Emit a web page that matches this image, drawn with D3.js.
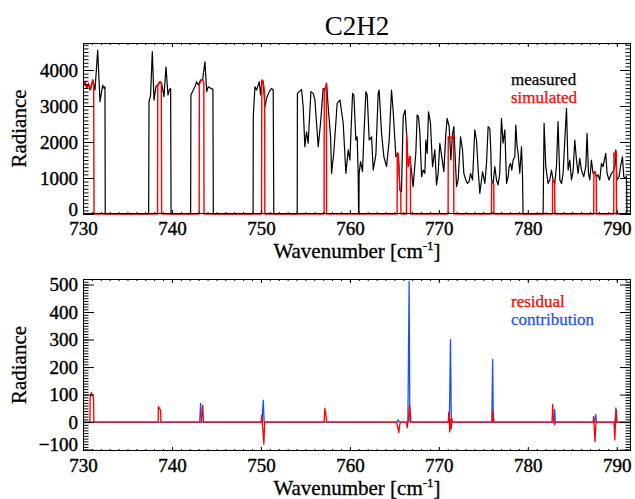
<!DOCTYPE html>
<html>
<head>
<meta charset="utf-8">
<script src="https://cdn.jsdelivr.net/npm/d3@7"></script>
<style>
body { margin: 0; background: #fff; }
text { font-family: "Liberation Serif", "DejaVu Serif", serif; fill: #000; }
</style>
</head>
<body>
<div id="chart"></div>
<script>
// datos: [numero de onda, radiancia]
const measured = [
  [730.0,3540],[730.22,3675],[730.41,3490],[730.6,3630],[730.79,3445],[731.09,3720],[731.35,3445],[731.65,4555],[731.91,3120],[732.21,3580],[732.36,3490],[732.47,3535],[732.5,0],
  [737.38,0],[737.42,3120],[737.6,3305],[737.79,4510],[737.98,3165],[738.2,3535],[738.39,3585],[738.65,3675],[738.84,3630],[739.1,3260],[739.33,4090],[739.55,3305],[739.7,3445],[739.85,3490],[739.9,0],
  [742.1,0],[742.13,3305],[742.4,3445],[742.58,3535],[742.77,3675],[742.96,3585],[743.22,3720],[743.45,3740],[743.71,4230],[743.9,3400],[744.08,3535],[744.35,3490],[744.6,3470],[744.65,0],
  [749.12,0],[749.14,2705],[749.33,3535],[749.51,3445],[749.81,3675],[749.96,3305],[750.11,3720],[750.26,3675],[750.45,2980],[750.64,3215],[750.93,3400],[751.2,3490],[751.38,3445],[751.45,0],
  [754.08,0],[754.1,3350],[754.3,3400],[754.57,3460],[754.75,2980],[754.94,1870],[755.13,2285],[755.31,1965],[755.62,3400],[755.88,3350],[756.07,3165],[756.44,1870],[756.7,2520],[757.0,3490],[757.19,3445],[757.38,3630],[757.56,2980],[757.83,2145],[757.94,1130],[758.2,1730],[758.57,3075],[758.88,3165],[759.25,2520],[759.55,1130],[759.81,1780],[760.0,1500],[760.3,3350],[760.45,3305],[760.67,2055],[760.82,2145],[760.93,1130],[760.98,0],[761.02,0],[761.04,1130],[761.2,1455],[761.42,1175],[761.57,2145],[761.8,3400],[761.95,3305],[762.17,2055],[762.44,2145],[762.62,1220],[762.92,1640],[763.18,3350],[763.29,3445],[763.56,2240],[763.82,1590],[764.12,1315],[764.42,2055],[764.68,3445],[764.87,2840],[765.17,1590],[765.43,1685],[765.62,665],[765.8,620],[765.99,2705],[766.21,2890],[766.37,2240],[766.55,1315],[766.74,1590],[766.93,1175],[767.11,760],[767.42,1730],[767.56,2750],[767.71,2705],[767.87,2240],[768.06,1035],[768.24,1220],[768.43,1130],[768.54,2055],[768.69,1685],[768.84,2840],[769.06,2520],[769.29,1315],[769.55,1780],[769.74,805],[769.92,1130],[770.11,1965],[770.3,1640],[770.56,1175],[770.79,2240],[770.93,2660],[771.16,2425],[771.35,1500],[771.54,2240],[771.69,2425],[771.8,1780],[771.99,760],[772.17,945],[772.44,2145],[772.66,1780],[772.81,1130],[773.03,945],[773.22,850],[773.4,900],[773.56,1130],[773.79,945],[774.04,2335],[774.23,2055],[774.42,1220],[774.61,575],[774.91,1175],[775.17,850],[775.36,1410],[775.54,2425],[775.73,2380],[775.84,1780],[775.92,945],[776.1,850],[776.29,1315],[776.48,945],[776.66,805],[776.85,1130],[777.04,2660],[777.22,1965],[777.42,2335],[777.61,850],[777.79,1035],[777.9,1315],[778.06,1410],[778.2,1220],[778.35,1500],[778.54,1590],[778.65,2470],[778.8,1870],[778.91,1685],[779.1,1130],[779.29,1870],[779.4,1130],[779.47,0],
  [781.72,0],[781.83,2520],[782.02,1315],[782.28,850],[782.47,945],[782.66,1220],[782.84,945],[783.03,850],[783.22,1315],[783.4,2565],[783.6,945],[783.79,850],[783.97,1130],[784.16,2055],[784.35,2935],[784.53,1220],[784.72,1500],[784.91,945],[785.09,1175],[785.28,2055],[785.47,1500],[785.65,1130],[785.84,1545],[786.03,1220],[786.29,1035],[786.52,1315],[786.66,2240],[786.82,1130],[786.97,945],[787.15,1500],[787.34,1130],[787.53,1175],[787.72,1035],[787.9,1085],[788.09,945],[788.28,1410],[788.46,1315],[788.76,1685],[788.91,1130],[789.13,945],[789.4,1130],[789.58,1175],[789.78,1315],[789.89,1780],[790.03,945],[790.26,1035],[790.42,1315],[790.64,1590],[790.79,1035],[790.93,990],[791.09,1035],[791.15,0],[791.6,0]
];

const simulated = [
  [730.0,3550],[730.25,3660],[730.45,3500],[730.65,3600],[730.85,3470],[731.0,3600],[731.1,3720],[731.2,3620],[731.24,0],
  [738.38,0],[738.4,3560],[738.5,3600],[738.65,3675],[738.8,3630],[738.84,0],
  [743.06,0],[743.08,3600],[743.25,3700],[743.45,3740],[743.58,3650],[743.6,0],
  [750.07,0],[750.1,3650],[750.2,3720],[750.35,3500],[750.42,3300],[750.44,0],
  [757.1,0],[757.12,3490],[757.25,3450],[757.36,3630],[757.38,0],
  [765.31,0],[765.33,1700],[765.45,1650],[765.62,700],[765.72,620],[765.74,0],
  [766.36,0],[766.38,2200],[766.5,1500],[766.62,1400],[766.72,1600],[766.8,1590],[766.82,0],
  [771.04,0],[771.06,2150],[771.3,2100],[771.5,2150],[771.66,2200],[771.68,0],
  [775.91,0],[775.93,870],[776.05,850],[776.17,830],[776.19,0],
  [782.77,0],[782.79,950],[782.9,900],[783.02,860],[783.04,0],
  [787.41,0],[787.43,1150],[787.55,1175],[787.7,1035],[787.72,0],
  [789.66,0],[789.68,1700],[789.85,1600],[789.95,1730],[789.97,0],[791.6,0]
];

const residual = [
  [730.0,0],[730.78,0],[730.8,85],[730.92,107],[731.05,100],[731.18,92],[731.22,0],
  [738.45,0],[738.47,56],[738.6,50],[738.72,42],[738.76,0],
  [743.3,0],[743.36,20],[743.45,62],[743.55,0],
  [750.03,0],[750.08,25],[750.2,-20],[750.33,-80],[750.42,0],
  [757.1,0],[757.18,50],[757.3,30],[757.38,0],
  [765.25,0],[765.35,-15],[765.5,-38],[765.6,-10],[765.68,0],
  [766.35,0],[766.45,-20],[766.55,5],[766.72,60],[766.8,30],[766.85,0],
  [771.05,0],[771.12,36],[771.22,-36],[771.3,10],[771.38,-25],[771.45,15],[771.52,0],
  [776.02,0],[776.1,42],[776.16,10],[776.2,0],
  [782.72,0],[782.8,64],[782.88,10],[783.0,-10],[783.08,0],
  [787.35,0],[787.4,20],[787.48,-30],[787.56,-71],[787.66,0],
  [789.68,0],[789.72,-20],[789.78,-65],[789.86,0],[789.96,44],[790.02,0],[791.6,0]
];

const contribution = [
  [730.0,0],
  [743.12,0],[743.22,68],[743.33,0],
  [750.12,0],[750.26,80],[750.36,0],
  [765.3,0],[765.42,8],[765.55,0],
  [766.52,0],[766.66,512],[766.74,0],
  [771.18,0],[771.31,300],[771.4,0],
  [775.95,0],[776.05,228],[776.12,0],
  [782.9,0],[783.02,46],[783.1,0],
  [787.5,0],[787.63,28],[787.72,0],
  [789.8,0],[789.9,52],[789.98,0],
  [791.6,0]
];

const xTicks = [730, 740, 750, 760, 770, 780, 790];
const topTicks = [0, 1000, 2000, 3000, 4000];
const bottomTicks = [-100, 0, 100, 200, 300, 400, 500];

const fuente = '"Liberation Serif", "DejaVu Serif", serif';
const width = 635, height = 499;
const left = 83, right = 631;

const svg = d3.select("#chart").append("svg")
    .attr("width", width)
    .attr("height", height)
    .style("font-family", fuente);

const x = d3.scaleLinear().domain([730, 791.6]).range([left, right]);

function dibujarPanel(p) {
    const y = p.y;
    const top = p.top, bottom = p.bottom;

    const clipId = "clip-" + p.id;
    svg.append("clipPath").attr("id", clipId)
        .append("rect")
        .attr("x", left).attr("y", top - 1)
        .attr("width", right - left).attr("height", bottom - top + 2);

    const line = d3.line().x(d => x(d[0])).y(d => y(d[1]));
    const plot = svg.append("g").attr("clip-path", `url(#${clipId})`);

    p.series.forEach(s => {
        plot.append("path")
            .datum(s.data)
            .attr("d", line)
            .attr("fill", "none")
            .attr("stroke", s.color)
            .attr("stroke-width", s.width)
            .attr("stroke-linejoin", "round");
    });

    // marco
    svg.append("rect")
        .attr("x", left + 0.5).attr("y", top + 0.5)
        .attr("width", right - left - 1).attr("height", bottom - top - 1)
        .attr("fill", "none").attr("stroke", "#000").attr("stroke-width", 1);

    const xMinor = d3.range(730, 792, 1);
    const yMinor = d3.range(p.yMinorStart, y.domain()[1], p.yMinorStep);
    const sinDominio = g => g.select(".domain").remove();

    // ejes x (abajo con etiquetas, arriba solo marcas)
    svg.append("g").attr("transform", `translate(0,${bottom})`)
        .call(d3.axisBottom(x).tickValues(xMinor).tickSize(-2).tickFormat(""))
        .call(sinDominio);
    svg.append("g").attr("transform", `translate(0,${bottom})`)
        .call(d3.axisBottom(x).tickValues(xTicks).tickSize(-4).tickPadding(8).tickFormat(d3.format("d")))
        .call(sinDominio);
    svg.append("g").attr("transform", `translate(0,${top})`)
        .call(d3.axisTop(x).tickValues(xMinor).tickSize(-2).tickFormat(""))
        .call(sinDominio);
    svg.append("g").attr("transform", `translate(0,${top})`)
        .call(d3.axisTop(x).tickValues(xTicks).tickSize(-4).tickFormat(""))
        .call(sinDominio);

    // ejes y
    svg.append("g").attr("transform", `translate(${left},0)`)
        .call(d3.axisLeft(y).tickValues(yMinor).tickSize(-5.5).tickFormat(""))
        .call(sinDominio);
    const yAxis = svg.append("g").attr("transform", `translate(${left},0)`)
        .call(d3.axisLeft(y).tickValues(p.yTicks).tickSize(-11).tickPadding(5).tickFormat(d3.format("d")))
        .call(sinDominio);
    svg.append("g").attr("transform", `translate(${right},0)`)
        .call(d3.axisRight(y).tickValues(yMinor).tickSize(-5.5).tickFormat(""))
        .call(sinDominio);
    svg.append("g").attr("transform", `translate(${right},0)`)
        .call(d3.axisRight(y).tickValues(p.yTicks).tickSize(-11).tickFormat(""))
        .call(sinDominio);

    svg.selectAll(".tick line").attr("stroke", "#000");
    svg.selectAll("g").attr("font-family", null).attr("font-size", null);
    svg.selectAll(".tick text")
        .style("font-size", "19px")
        .style("font-family", fuente)
        .attr("stroke", "#000")
        .attr("stroke-width", 0.4);

    // la etiqueta mas baja queda un poco levantada, como en el original
    yAxis.selectAll(".tick text").filter(d => d === p.yTicks[0]).attr("y", -5);

    // titulos de ejes
    const xt = svg.append("text")
        .attr("x", (left + right) / 2)
        .attr("y", bottom + 44)
        .attr("text-anchor", "middle")
        .attr("stroke", "#000").attr("stroke-width", 0.3)
        .style("font-size", "21px");
    xt.append("tspan").text("Wavenumber [cm");
    xt.append("tspan").text("-1").attr("dy", -8).style("font-size", "13px");
    xt.append("tspan").text("]").attr("dy", 8);

    svg.append("text")
        .attr("transform", `translate(26,${(top + bottom) / 2}) rotate(-90)`)
        .attr("text-anchor", "middle")
        .attr("stroke", "#000").attr("stroke-width", 0.3)
        .style("font-size", "21px")
        .text("Radiance");

    // leyenda
    p.legend.forEach((l, i) => {
        svg.append("text")
            .attr("x", 511)
            .attr("y", p.legendY + i * 18)
            .attr("stroke", l.color).attr("stroke-width", 0.25)
            .style("font-size", "17px")
            .style("fill", l.color)
            .text(l.label);
    });
}

svg.append("text")
    .attr("x", (left + right) / 2)
    .attr("y", 35)
    .attr("text-anchor", "middle")
    .style("font-size", "27px")
    .text("C2H2");

dibujarPanel({
    id: "top",
    top: 43, bottom: 214,
    y: d3.scaleLinear().domain([0, 4750]).range([214, 43]),
    yTicks: topTicks,
    yMinorStart: 0, yMinorStep: 100,
    series: [
        { data: measured, color: "#000", width: 1.2 },
        { data: simulated, color: "#ff0000", width: 1.4 }
    ],
    legend: [
        { label: "measured", color: "#000" },
        { label: "simulated", color: "#ff0000" }
    ],
    legendY: 85
});

dibujarPanel({
    id: "bottom",
    top: 279, bottom: 451,
    y: d3.scaleLinear().domain([-105, 520]).range([451, 279]),
    yTicks: bottomTicks,
    yMinorStart: -100, yMinorStep: 10,
    series: [
        { data: contribution, color: "#1a50ff", width: 1.3 },
        { data: residual, color: "#ff0000", width: 1.3 }
    ],
    legend: [
        { label: "residual", color: "#ff0000" },
        { label: "contribution", color: "#1a50ff" }
    ],
    legendY: 307
});
</script>
</body>
</html>
